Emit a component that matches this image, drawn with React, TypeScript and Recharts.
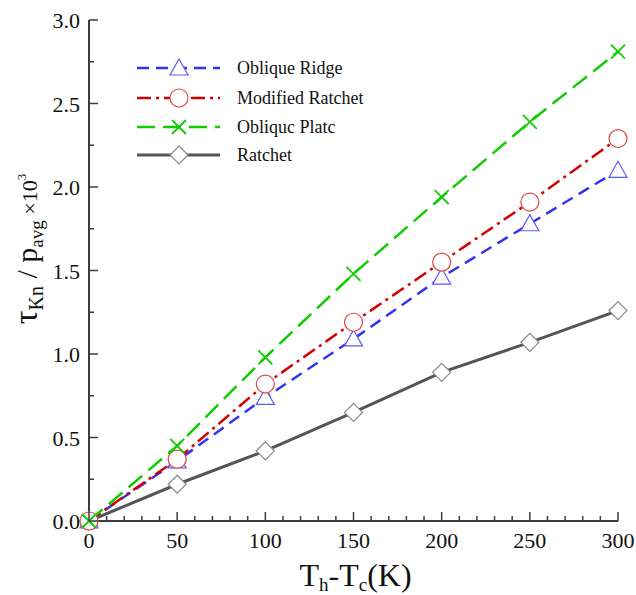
import { LineChart, Line, XAxis, YAxis, Legend } from "recharts";

const temps = [0, 50, 100, 150, 200, 250, 300];
const obliqueRidge = [0, 0.36, 0.74, 1.09, 1.46, 1.78, 2.1];
const modifiedRatchet = [0, 0.37, 0.82, 1.19, 1.55, 1.91, 2.29];
const obliquePlate = [0, 0.45, 0.98, 1.48, 1.94, 2.39, 2.81];
const ratchet = [0, 0.22, 0.42, 0.65, 0.89, 1.07, 1.26];

const xTicks = Array.from({ length: 31 }, (_, i) => i * 10);
const yTicks = Array.from({ length: 13 }, (_, i) => i * 0.25);

const data = temps.map((t, i) => ({
  t,
  ridge: obliqueRidge[i],
  modified: modifiedRatchet[i],
  plate: obliquePlate[i],
  ratchet: ratchet[i],
}));

const AXIS = "#3c3c3c";
const serif = { fontFamily: "Liberation Serif" };

const series = [
  { key: "ratchet", name: "Ratchet", color: "#555", dash: undefined, marker: "diamond", width: 3 },
  { key: "ridge", name: "Oblique Ridge", color: "#3333f0", dash: "12 7", marker: "triangle", width: 2.5 },
  { key: "modified", name: "Modified Ratchet", color: "#d40000", dash: "14 5 3 5", marker: "circle", width: 2.5 },
  { key: "plate", name: "Obliquc Platc", color: "#11cc00", dash: "18 8", marker: "cross", width: 2.5 },
];

const legendOrder = ["ridge", "modified", "plate", "ratchet"];

const Marker = ({ type, cx, cy }: { type: string; cx: number; cy: number }) => {
  if (type === "triangle")
    return (
      <polygon
        points={`${cx},${cy - 9} ${cx - 9},${cy + 7} ${cx + 9},${cy + 7}`}
        fill="#fff"
        stroke="#5a5af5"
        strokeWidth={1.2}
      />
    );
  if (type === "circle")
    return <circle cx={cx} cy={cy} r={9} fill="#fff" stroke="#e04848" strokeWidth={1.2} />;
  if (type === "diamond")
    return (
      <polygon
        points={`${cx},${cy - 9} ${cx + 9},${cy} ${cx},${cy + 9} ${cx - 9},${cy}`}
        fill="#fff"
        stroke="#888"
        strokeWidth={1.2}
      />
    );
  return (
    <g stroke="#11cc00" strokeWidth={1.8}>
      <line x1={cx - 7} y1={cy - 7} x2={cx + 7} y2={cy + 7} />
      <line x1={cx - 7} y1={cy + 7} x2={cx + 7} y2={cy - 7} />
    </g>
  );
};

// ticks point inward, labels only on bottom / left
const XTick = (props: any) => {
  const { x, y, payload, side } = props;
  const v = payload.value;
  const major = v % 50 === 0;
  const len = major ? 9 : 5;
  const dir = side === "bottom" ? -1 : 1;
  return (
    <g>
      <line x1={x} x2={x} y1={y} y2={y + dir * len} stroke={AXIS} strokeWidth={1.5} />
      {side === "bottom" && major && (
        <text x={x} y={y + 27} textAnchor="middle" style={serif} fontSize={22} fill="#111">
          {v}
        </text>
      )}
    </g>
  );
};

const YTick = (props: any) => {
  const { x, y, payload, side } = props;
  const v = payload.value;
  const major = Math.abs(v * 2 - Math.round(v * 2)) < 1e-6;
  const len = major ? 9 : 5;
  const dir = side === "left" ? 1 : -1;
  return (
    <g>
      <line x1={x} x2={x + dir * len} y1={y} y2={y} stroke={AXIS} strokeWidth={1.5} />
      {side === "left" && major && (
        <text x={x - 9} y={y + 8} textAnchor="end" style={serif} fontSize={22} fill="#111">
          {v.toFixed(1)}
        </text>
      )}
    </g>
  );
};

const LegendBox = () => {
  const rows = [18, 48, 77, 105];
  return (
    <svg width={260} height={125}>
      {legendOrder.map((k, i) => {
        const s = series.find((q) => q.key === k)!;
        const y = rows[i];
        return (
          <g key={k}>
            <line
              x1={7}
              x2={90}
              y1={y}
              y2={y}
              stroke={s.color}
              strokeWidth={s.width}
              strokeDasharray={s.dash}
            />
            <Marker type={s.marker} cx={49} cy={y} />
            <text x={107} y={y + 6} style={serif} fontSize={18} fill="#111">
              {s.name}
            </text>
          </g>
        );
      })}
    </svg>
  );
};

const App = () => {
  return (
    <div style={{ position: "absolute", left: 0, top: 0, ...serif }}>
      <LineChart
        width={636}
        height={595}
        data={data}
        margin={{ top: 20, right: 18, left: 0, bottom: 0 }}
      >
        <XAxis
          xAxisId="b"
          dataKey="t"
          type="number"
          domain={[0, 300]}
          ticks={xTicks}
          interval={0}
          height={74}
          stroke={AXIS}
          strokeWidth={2}
          tickSize={0}
          tickMargin={0}
          tickLine={false}
          tick={<XTick side="bottom" />}
          label={{
            position: "insideBottom",
            content: (p: any) => {
              const vb = p.viewBox;
              const cx = vb.x + vb.width / 2 + 2;
              return (
                <text x={cx} y={586} textAnchor="middle" style={serif} fill="#111">
                  <tspan fontSize={32}>T</tspan>
                  <tspan fontSize={19} dy={5}>h</tspan>
                  <tspan fontSize={32} dy={-5}>-T</tspan>
                  <tspan fontSize={19} dy={5}>c</tspan>
                  <tspan fontSize={32} dy={-5}>(K)</tspan>
                </text>
              );
            },
          }}
        />
        <XAxis
          xAxisId="t"
          orientation="top"
          type="number"
          domain={[0, 300]}
          allowDataOverflow
          ticks={xTicks}
          interval={0}
          height={0}
          stroke={AXIS}
          strokeWidth={2}
          tickSize={0}
          tickMargin={0}
          tickLine={false}
          tick={<XTick side="top" />}
        />
        <YAxis
          yAxisId="l"
          type="number"
          domain={[0, 3]}
          ticks={yTicks}
          interval={0}
          width={89}
          stroke={AXIS}
          strokeWidth={2}
          tickSize={0}
          tickMargin={0}
          tickLine={false}
          tick={<YTick side="left" />}
          label={{
            position: "insideLeft",
            content: () => {
              const cx = 37;
              const cy = 249;
              return (
                <text
                  x={cx}
                  y={cy}
                  transform={`rotate(-90 ${cx} ${cy})`}
                  textAnchor="middle"
                  style={serif}
                  fill="#111"
                >
                  <tspan fontSize={34}>τ</tspan>
                  <tspan fontSize={20} dy={6}>Kn</tspan>
                  <tspan fontSize={30} dy={-6}> / p</tspan>
                  <tspan fontSize={19} dy={6}>avg</tspan>
                  <tspan fontSize={22} dy={-6}> ×10</tspan>
                  <tspan fontSize={13} dy={-11}>3</tspan>
                </text>
              );
            },
          }}
        />
        <YAxis
          yAxisId="r"
          orientation="right"
          type="number"
          domain={[0, 3]}
          allowDataOverflow
          ticks={yTicks}
          interval={0}
          width={0}
          stroke={AXIS}
          strokeWidth={2}
          tickSize={0}
          tickMargin={0}
          tickLine={false}
          tick={<YTick side="right" />}
        />
        <Legend
          layout="vertical"
          align="center"
          verticalAlign="middle"
          wrapperStyle={{ position: "absolute", left: 130, top: 50, width: 260, height: 125 }}
          content={() => <LegendBox />}
        />
        {series.map((s) => (
          <Line
            key={s.key}
            xAxisId="b"
            yAxisId="l"
            dataKey={s.key}
            name={s.name}
            stroke={s.color}
            strokeWidth={s.width}
            strokeDasharray={s.dash}
            isAnimationActive={false}
            dot={(p: any) => <Marker key={`${s.key}-${p.index}`} type={s.marker} cx={p.cx} cy={p.cy} />}
            activeDot={false}
          />
        ))}
      </LineChart>
    </div>
  );
};

export default App;
